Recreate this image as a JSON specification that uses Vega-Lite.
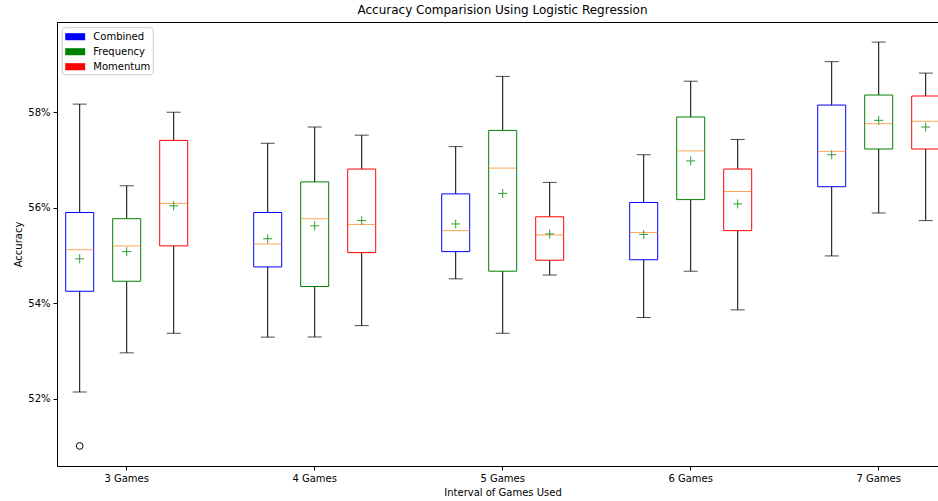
{
  "$schema": "https://vega.github.io/schema/vega-lite/v6.json",
  "autosize": "none",
  "width": 881,
  "height": 444,
  "padding": {"left": 57, "top": 22, "right": 0, "bottom": 35},
  "background": "white",
  "title": {"text": "Accuracy Comparision Using Logistic Regression", "font": "DejaVu Sans", "fontSize": 12, "fontWeight": "normal", "color": "black", "offset": 5, "anchor": "middle", "dx": 5},
  "data": {"values": [
    {"group": "3 Games", "method": "Combined", "wlo": 52.14, "q1": 54.25, "med": 55.12, "mean": 54.93, "q3": 55.90, "whi": 58.17, "outlier": 51.01},
    {"group": "3 Games", "method": "Frequency", "wlo": 52.96, "q1": 54.46, "med": 55.20, "mean": 55.08, "q3": 55.77, "whi": 56.46, "outlier": null},
    {"group": "3 Games", "method": "Momentum", "wlo": 53.37, "q1": 55.20, "med": 56.09, "mean": 56.04, "q3": 57.41, "whi": 58.00, "outlier": null},
    {"group": "4 Games", "method": "Combined", "wlo": 53.29, "q1": 54.76, "med": 55.24, "mean": 55.35, "q3": 55.90, "whi": 57.35, "outlier": null},
    {"group": "4 Games", "method": "Frequency", "wlo": 53.29, "q1": 54.35, "med": 55.77, "mean": 55.62, "q3": 56.54, "whi": 57.69, "outlier": null},
    {"group": "4 Games", "method": "Momentum", "wlo": 53.53, "q1": 55.06, "med": 55.65, "mean": 55.73, "q3": 56.81, "whi": 57.52, "outlier": null},
    {"group": "5 Games", "method": "Combined", "wlo": 54.51, "q1": 55.08, "med": 55.52, "mean": 55.66, "q3": 56.29, "whi": 57.28, "outlier": null},
    {"group": "5 Games", "method": "Frequency", "wlo": 53.37, "q1": 54.67, "med": 56.83, "mean": 56.30, "q3": 57.62, "whi": 58.75, "outlier": null},
    {"group": "5 Games", "method": "Momentum", "wlo": 54.59, "q1": 54.90, "med": 55.43, "mean": 55.45, "q3": 55.81, "whi": 56.53, "outlier": null},
    {"group": "6 Games", "method": "Combined", "wlo": 53.70, "q1": 54.91, "med": 55.48, "mean": 55.44, "q3": 56.11, "whi": 57.11, "outlier": null},
    {"group": "6 Games", "method": "Frequency", "wlo": 54.67, "q1": 56.17, "med": 57.19, "mean": 56.98, "q3": 57.90, "whi": 58.65, "outlier": null},
    {"group": "6 Games", "method": "Momentum", "wlo": 53.86, "q1": 55.52, "med": 56.34, "mean": 56.08, "q3": 56.81, "whi": 57.43, "outlier": null},
    {"group": "7 Games", "method": "Combined", "wlo": 54.99, "q1": 56.44, "med": 57.18, "mean": 57.11, "q3": 58.15, "whi": 59.06, "outlier": null},
    {"group": "7 Games", "method": "Frequency", "wlo": 55.89, "q1": 57.23, "med": 57.76, "mean": 57.83, "q3": 58.36, "whi": 59.47, "outlier": null},
    {"group": "7 Games", "method": "Momentum", "wlo": 55.73, "q1": 57.23, "med": 57.81, "mean": 57.69, "q3": 58.34, "whi": 58.82, "outlier": null}
  ]},
  "encoding": {
    "x": {"field": "group", "type": "nominal", "sort": null,
      "scale": {"range": [-24.3, 915.7], "paddingInner": 0, "paddingOuter": 0},
      "axis": {"title": "Interval of Games Used", "labelAngle": 0, "domain": false, "titlePadding": 4, "titleX": 445.5}},
    "xOffset": {"field": "method", "type": "nominal", "sort": ["Combined", "Frequency", "Momentum"],
      "scale": {"paddingInner": 0, "paddingOuter": 0.5}}
  },
  "layer": [
    {"mark": {"type": "rule", "color": "black", "strokeWidth": 1},
     "encoding": {"y": {"field": "wlo", "type": "quantitative",
        "scale": {"domain": [50.59, 59.89], "nice": false, "zero": false},
        "axis": {"title": "Accuracy", "values": [52, 54, 56, 58], "labelExpr": "datum.value + '%'", "titlePadding": 4}},
       "y2": {"field": "q1"}}},
    {"mark": {"type": "rule", "color": "black", "strokeWidth": 1},
     "encoding": {"y": {"field": "q3", "type": "quantitative"}, "y2": {"field": "whi"}}},
    {"mark": {"type": "tick", "color": "black", "size": 14, "thickness": 1},
     "encoding": {"y": {"field": "wlo", "type": "quantitative"}}},
    {"mark": {"type": "tick", "color": "black", "size": 14, "thickness": 1},
     "encoding": {"y": {"field": "whi", "type": "quantitative"}}},
    {"mark": {"type": "bar", "width": 28, "strokeWidth": 1, "fillOpacity": 0},
     "encoding": {"y": {"field": "q1", "type": "quantitative"}, "y2": {"field": "q3"},
       "stroke": {"field": "method", "type": "nominal",
         "scale": {"domain": ["Combined", "Frequency", "Momentum"], "range": ["#0000ff", "#008000", "#ff0000"]},
         "legend": null},
       "color": {"field": "method", "type": "nominal",
         "scale": {"domain": ["Combined", "Frequency", "Momentum"], "range": ["#0000ff", "#008000", "#ff0000"]},
         "legend": {"title": null, "orient": "none", "legendX": 4.7, "legendY": 5.2,
           "symbolType": "M-1.33,-0.47L1.33,-0.47L1.33,0.47L-1.33,0.47Z", "symbolSize": 225, "symbolStrokeWidth": 0,
           "symbolOpacity": 1, "symbolOffset": 4, "labelOffset": 10.6, "padding": 2, "rowPadding": 2,
           "strokeColor": "#cccccc", "fillColor": "rgba(255,255,255,0.8)", "cornerRadius": 3,
           "labelFont": "DejaVu Sans", "labelFontSize": 10, "labelColor": "black"}}}},
    {"mark": {"type": "tick", "color": "#ff7f0e", "size": 28, "thickness": 1},
     "encoding": {"y": {"field": "med", "type": "quantitative"}}},
    {"mark": {"type": "point", "shape": "M-1,0L1,0M0,-1L0,1", "size": 81, "filled": false, "color": "#2ca02c", "strokeWidth": 1, "opacity": 1},
     "encoding": {"y": {"field": "mean", "type": "quantitative"}}},
    {"transform": [{"filter": "datum.outlier != null"}],
     "mark": {"type": "point", "shape": "circle", "size": 45, "filled": false, "color": "black", "strokeWidth": 1, "opacity": 1},
     "encoding": {"y": {"field": "outlier", "type": "quantitative"}}}
  ],
  "config": {
    "font": "DejaVu Sans",
    "view": {"stroke": "black", "strokeWidth": 1},
    "axis": {"labelFont": "DejaVu Sans", "titleFont": "DejaVu Sans", "labelFontSize": 10, "titleFontSize": 10,
      "titleFontWeight": "normal", "labelColor": "black", "titleColor": "black", "tickColor": "black",
      "domainColor": "black", "tickSize": 4, "grid": false, "labelPadding": 3}
  }
}
